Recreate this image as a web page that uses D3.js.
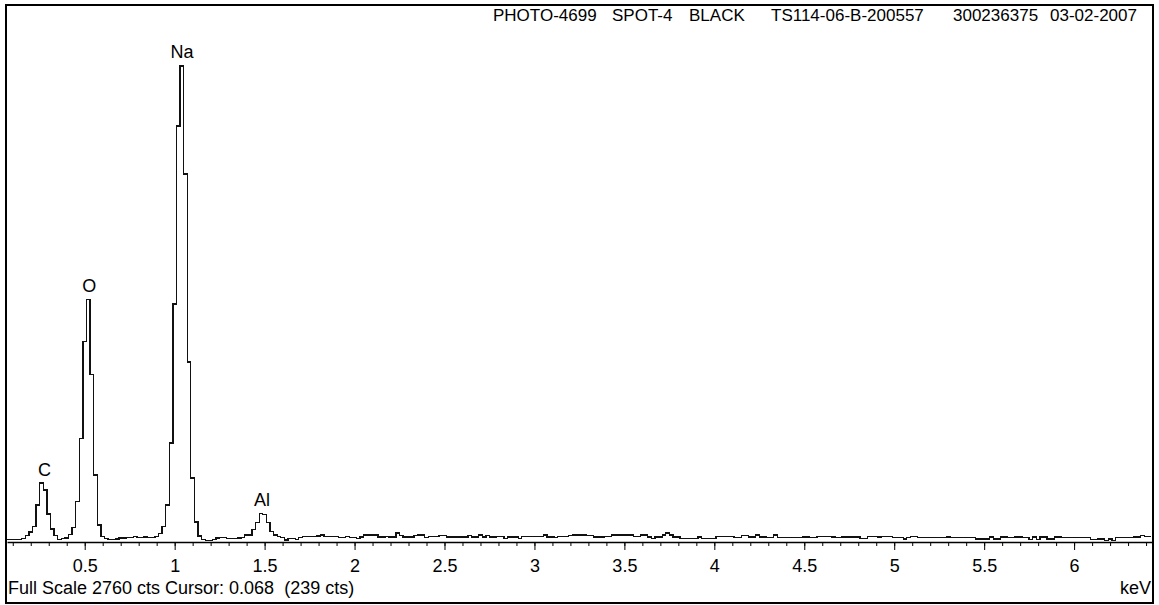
<!DOCTYPE html>
<html>
<head>
<meta charset="utf-8">
<script src="https://cdn.jsdelivr.net/npm/d3@7"></script>
<style>
  html, body { margin: 0; padding: 0; background: #fff; }
  svg { display: block; }
  text { font-family: Arial, "Liberation Sans", sans-serif; fill: #000; }
</style>
</head>
<body>
<svg id="chart" width="1159" height="605"></svg>
<script>
// EDS spectrum: counts per 20 eV channel, first channel centred on 0.08 keV
const channelStart = 0.07;   // keV, lower edge of first channel
const channelWidth = 0.02;   // keV
const channelCounts = [
  12, 12, 12, 14, 18, 32, 51, 79, 190, 303,          // 0.08 - 0.26
  267, 144, 67, 32, 14, 18, 20, 38, 76, 207,         // 0.28 - 0.46
  533, 1029, 1247, 862, 344, 87, 27, 18, 14, 14,     // 0.48 - 0.66
  16, 20, 20, 22, 22, 27, 22, 22, 26, 22,            // 0.68 - 0.86
  24, 30, 45, 79, 190, 509, 1223, 2138, 2447, 1892,  // 0.88 - 1.06
  925, 329, 103, 31, 12, 8, 8, 12, 20, 22,           // 1.08 - 1.26
  22, 17, 17, 17, 20, 24, 36, 36, 65, 99,            // 1.28 - 1.46
  147, 140, 99, 53, 36, 30, 22, 10, 17, 17,          // 1.48 - 1.66
  13, 24, 27, 27, 27, 27, 31, 36, 29, 29,            // 1.68 - 1.86
  27, 27, 24, 24, 27, 22, 22, 19, 26, 36,            // 1.88 - 2.06
  36, 36, 36, 26, 26, 29, 26, 26, 46, 33,            // 2.08 - 2.26
  26, 26, 26, 33, 36, 36, 22, 29, 29, 29,            // 2.28 - 2.46
  33, 33, 26, 26, 26, 26, 26, 26, 33, 26,            // 2.48 - 2.66
  26, 36, 26, 33, 26, 26, 29, 29, 19, 26,            // 2.68 - 2.86
  26, 26, 19, 29, 29, 29, 29, 29, 29, 36,            // 2.88 - 3.06
  26, 26, 22, 29, 29, 29, 33, 36, 36, 36,            // 3.08 - 3.26
  36, 33, 33, 26, 26, 26, 29, 29, 36, 36,            // 3.28 - 3.46
  36, 36, 36, 36, 29, 29, 36, 36, 26, 19,            // 3.48 - 3.66
  26, 26, 36, 46, 36, 26, 26, 19, 19, 19,            // 3.68 - 3.86
  19, 19, 26, 19, 19, 19, 19, 29, 29, 29,            // 3.88 - 4.06
  29, 29, 22, 22, 33, 33, 26, 26, 36, 26,            // 4.08 - 4.26
  26, 22, 22, 36, 22, 22, 22, 22, 22, 22,            // 4.28 - 4.46
  22, 26, 26, 22, 22, 29, 29, 29, 29, 26,            // 4.48 - 4.66
  22, 22, 26, 26, 26, 26, 26, 19, 19, 29,            // 4.68 - 4.86
  29, 29, 26, 29, 29, 29, 22, 22, 22, 15,            // 4.88 - 5.06
  22, 29, 29, 22, 22, 22, 22, 22, 22, 22,            // 5.08 - 5.26
  22, 26, 22, 22, 22, 22, 22, 22, 22, 15,            // 5.28 - 5.46
  15, 15, 15, 26, 15, 15, 26, 26, 22, 22,            // 5.48 - 5.66
  26, 26, 22, 22, 12, 26, 12, 26, 26, 15,            // 5.68 - 5.86
  15, 26, 26, 22, 22, 22, 22, 22, 22, 22,            // 5.88 - 6.06
  22, 12, 12, 15, 15, 8, 15, 8, 22, 22,              // 6.08 - 6.26
  22, 22, 22, 26, 26, 33, 29, 29                     // 6.28 - 6.42
];

const fullScale = 2760;              // cts
const energyRange = [0.068, 6.433];  // keV shown
const majorTicks = [0.5, 1, 1.5, 2, 2.5, 3, 3.5, 4, 4.5, 5, 5.5, 6];
const majorTickLabels = ["0.5", "1", "1.5", "2", "2.5", "3", "3.5", "4", "4.5", "5", "5.5", "6"];
const minorTicks = d3.range(1, 65).map(i => i / 10);

const elementNames = ["C", "O", "Na", "Al"];
const elementEnergies = [0.277, 0.525, 1.041, 1.486];

const headerFields = ["PHOTO-4699", "SPOT-4", "BLACK", "TS114-06-B-200557", "300236375", "03-02-2007"];
const footerText = "Full Scale 2760 cts Cursor: 0.068  (239 cts)";
const unitText = "keV";

// ---- layout ----
const svg = d3.select("#chart");
const plot = { left: 7, right: 1152, top: 5, base: 542 };
const headerX = [493, 612, 689, 771, 953, 1050];
const fontSize = 18;
const headerFontSize = 17;

const x = d3.scaleLinear().domain(energyRange).range([plot.left, plot.right]);
const y = d3.scaleLinear().domain([0, fullScale]).range([plot.base, plot.top]);

svg.append("rect").attr("width", 1159).attr("height", 605).attr("fill", "#fff");

// clip for the spectrum trace
svg.append("defs").append("clipPath").attr("id", "plotClip")
  .append("rect").attr("x", plot.left).attr("y", plot.top)
  .attr("width", plot.right - plot.left).attr("height", plot.base - plot.top);

// minor ticks
svg.append("g")
  .attr("transform", `translate(0,${plot.base})`)
  .call(d3.axisBottom(x).tickValues(minorTicks).tickSize(4).tickSizeOuter(0).tickFormat(""))
  .call(g => g.select(".domain").remove())
  .call(g => g.selectAll("line").attr("stroke", "#000").attr("stroke-width", 1));

// major ticks with labels and the axis line
const labelOf = new Map(majorTicks.map((v, i) => [v, majorTickLabels[i]]));
svg.append("g")
  .attr("transform", `translate(0,${plot.base})`)
  .call(d3.axisBottom(x).tickValues(majorTicks).tickSize(8).tickSizeOuter(0).tickPadding(9)
          .tickFormat(d => labelOf.get(d)))
  .call(g => g.select(".domain").attr("stroke", "#000").attr("stroke-width", 1.5))
  .call(g => g.selectAll("line").attr("stroke", "#000").attr("stroke-width", 1))
  .call(g => g.selectAll("text").attr("font-size", fontSize)
          .attr("font-family", "Arial, 'Liberation Sans', sans-serif").attr("fill", "#000"));

// spectrum as a histogram step trace
const stepPoints = channelCounts.map((c, i) => [channelStart + i * channelWidth, c]);
stepPoints.push([channelStart + channelCounts.length * channelWidth, channelCounts[channelCounts.length - 1]]);

const stepLine = d3.line()
  .x(d => x(d[0]))
  .y(d => y(d[1]))
  .curve(d3.curveStepAfter);

svg.append("path")
  .datum(stepPoints)
  .attr("clip-path", "url(#plotClip)")
  .attr("d", stepLine)
  .attr("fill", "none")
  .attr("stroke", "#111")
  .attr("stroke-width", 1.3)
  .attr("shape-rendering", "crispEdges");

// element labels above their peaks
elementNames.forEach((name, i) => {
  const e = elementEnergies[i];
  let peak = 0;
  channelCounts.forEach((c, j) => {
    const centre = channelStart + (j + 0.5) * channelWidth;
    if (Math.abs(centre - e) <= 0.025) peak = Math.max(peak, c);
  });
  svg.append("text")
    .attr("x", x(e))
    .attr("y", y(peak) - 7.5)
    .attr("text-anchor", "middle")
    .attr("font-size", fontSize)
    .text(name);
});

// header line
headerFields.forEach((t, i) => {
  svg.append("text")
    .attr("x", headerX[i])
    .attr("y", 21)
    .attr("font-size", headerFontSize)
    .text(t);
});

// footer
svg.append("text")
  .attr("x", 8).attr("y", 594)
  .attr("font-size", fontSize)
  .attr("xml:space", "preserve")
  .style("white-space", "pre")
  .text(footerText);

svg.append("text")
  .attr("x", 1151).attr("y", 594)
  .attr("text-anchor", "end")
  .attr("font-size", fontSize)
  .text(unitText);

// outer frame
svg.append("rect")
  .attr("x", 6).attr("y", 5)
  .attr("width", 1147).attr("height", 598)
  .attr("fill", "none")
  .attr("stroke", "#000")
  .attr("stroke-width", 2);
</script>
</body>
</html>
